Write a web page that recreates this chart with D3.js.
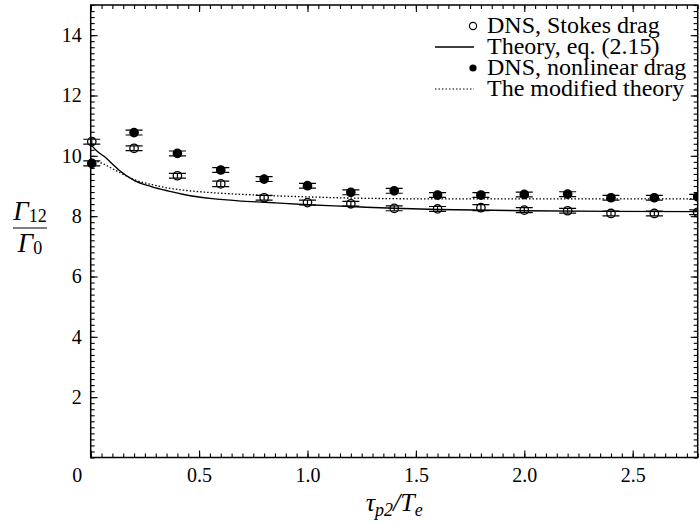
<!DOCTYPE html>
<html>
<head>
<meta charset="utf-8">
<script src="https://cdn.jsdelivr.net/npm/d3@7"></script>
<style>
  html, body { margin: 0; padding: 0; background: #fff; }
  svg { display: block; }
</style>
</head>
<body>
<svg id="chart" width="699" height="524"></svg>
<script>
// ---- data ----
const tauX = [0.005, 0.2, 0.4, 0.6, 0.8, 1.0, 1.2, 1.4, 1.6, 1.8, 2.0, 2.2, 2.4, 2.6, 2.8];
const stokesDrag = [10.47, 10.25, 9.34, 9.07, 8.61, 8.45, 8.41, 8.26, 8.24, 8.28, 8.20, 8.18, 8.09, 8.09, 8.13];
const stokesErr = [0.08, 0.08, 0.08, 0.09, 0.08, 0.08, 0.08, 0.08, 0.08, 0.1, 0.08, 0.08, 0.08, 0.08, 0.08];
const nonlinearDrag = [9.75, 10.77, 10.08, 9.53, 9.23, 9.01, 8.79, 8.84, 8.70, 8.70, 8.72, 8.73, 8.61, 8.61, 8.64];
const nonlinearErr = [0.08, 0.08, 0.08, 0.08, 0.08, 0.08, 0.08, 0.08, 0.08, 0.08, 0.08, 0.08, 0.08, 0.08, 0.08];

const theoryX = [0, 0.03, 0.066, 0.1, 0.13, 0.2, 0.28, 0.36, 0.43, 0.56, 0.7, 0.8, 1.0, 1.2, 1.4, 1.6, 2.0, 2.4, 2.8];
const theoryY = [10.38, 10.15, 9.96, 9.73, 9.53, 9.19, 8.98, 8.83, 8.72, 8.58, 8.50, 8.46, 8.38, 8.32, 8.26, 8.22, 8.18, 8.16, 8.15];
const modifiedX = [0, 0.05, 0.13, 0.2, 0.28, 0.36, 0.43, 0.56, 0.8, 1.0, 1.2, 1.4, 1.6, 2.0, 2.4, 2.8];
const modifiedY = [9.90, 9.76, 9.46, 9.21, 9.05, 8.93, 8.86, 8.78, 8.69, 8.64, 8.60, 8.58, 8.57, 8.57, 8.57, 8.57];

const xTicks = [0, 0.5, 1.0, 1.5, 2.0, 2.5];
const xTickLabels = ["0", "0.5", "1.0", "1.5", "2.0", "2.5"];
const yTicks = [2, 4, 6, 8, 10, 12, 14];
const legendLabels = ["DNS, Stokes drag", "Theory, eq. (2.15)", "DNS, nonlinear drag", "The modified theory"];

const SERIF = '"Liberation Serif", "Times New Roman", Tinos, "Noto Serif", serif';

// ---- layout ----
const margin = { left: 90.7, top: 5, right: 1.3, bottom: 66.5 };
const W = 699, H = 524;
const w = W - margin.left - margin.right;
const h = H - margin.top - margin.bottom;

const svg = d3.select("#chart");
const g = svg.append("g").attr("transform", `translate(${margin.left},${margin.top})`);

const x = d3.scaleLinear().domain([0, 2.8]).range([0, w]);
const y = d3.scaleLinear().domain([0, 15]).range([h, 0]);

svg.append("defs").append("clipPath").attr("id", "clip")
  .append("rect").attr("x", -30).attr("y", 0).attr("width", w + 30).attr("height", h);

// ---- axes ----
const minorX = d3.range(0, 2.8001, 0.05);
const minorY = d3.range(0, 15.001, 0.2);

function styleAxis(sel) {
  sel.select(".domain").remove();
  sel.selectAll("line").attr("stroke", "#000").attr("stroke-width", 1.1);
  sel.selectAll("text").style("font-family", SERIF).style("font-size", "20px").attr("fill", "#000");
}

// bottom
g.append("g").attr("transform", `translate(0,${h})`)
  .call(d3.axisBottom(x).tickValues(minorX).tickSize(-4).tickFormat(""))
  .call(styleAxis);
const xb = g.append("g").attr("transform", `translate(0,${h})`)
  .call(d3.axisBottom(x).tickValues(xTicks).tickSize(-7).tickPadding(10)
        .tickFormat((d, i) => xTickLabels[i]))
  .call(styleAxis);
xb.selectAll(".tick").filter(d => d === 0).select("text").attr("dx", -14);
// top
g.append("g")
  .call(d3.axisTop(x).tickValues(minorX).tickSize(-4).tickFormat(""))
  .call(styleAxis);
g.append("g")
  .call(d3.axisTop(x).tickValues(xTicks).tickSize(-7).tickFormat(""))
  .call(styleAxis);
// left
g.append("g")
  .call(d3.axisLeft(y).tickValues(minorY).tickSize(-4).tickFormat(""))
  .call(styleAxis);
g.append("g")
  .call(d3.axisLeft(y).tickValues(yTicks).tickSize(-7).tickPadding(9).tickFormat(d3.format("d")))
  .call(styleAxis);
// right
g.append("g").attr("transform", `translate(${w},0)`)
  .call(d3.axisRight(y).tickValues(minorY).tickSize(-4).tickFormat(""))
  .call(styleAxis);
g.append("g").attr("transform", `translate(${w},0)`)
  .call(d3.axisRight(y).tickValues(yTicks).tickSize(-7).tickFormat(""))
  .call(styleAxis);

// frame
g.append("rect").attr("x", 0).attr("y", 0).attr("width", w).attr("height", h)
  .attr("fill", "none").attr("stroke", "#000").attr("stroke-width", 1.5);

// ---- curves ----
const plot = g.append("g").attr("clip-path", "url(#clip)");
const line = d3.line().x(d => x(d[0])).y(d => y(d[1])).curve(d3.curveMonotoneX);

plot.append("path").datum(theoryX.map((v, i) => [v, theoryY[i]]))
  .attr("d", line).attr("fill", "none").attr("stroke", "#000").attr("stroke-width", 1.4);
plot.append("path").datum(modifiedX.map((v, i) => [v, modifiedY[i]]))
  .attr("d", line).attr("fill", "none").attr("stroke", "#000").attr("stroke-width", 1.3)
  .attr("stroke-dasharray", "1.5,2");

// ---- points with error bars ----
function drawSeries(vals, errs, filled) {
  const data = tauX.map((v, i) => ({ x: v, y: vals[i], e: errs[i] }));
  const grp = plot.append("g");
  const cap = 8.5;
  const pts = grp.selectAll("g").data(data).join("g");
  pts.append("line")
    .attr("x1", d => x(d.x)).attr("x2", d => x(d.x))
    .attr("y1", d => y(d.y - d.e)).attr("y2", d => y(d.y + d.e))
    .attr("stroke", "#000").attr("stroke-width", 1.2);
  pts.append("line")
    .attr("x1", d => x(d.x) - cap).attr("x2", d => x(d.x) + cap)
    .attr("y1", d => y(d.y + d.e)).attr("y2", d => y(d.y + d.e))
    .attr("stroke", "#000").attr("stroke-width", 1.2);
  pts.append("line")
    .attr("x1", d => x(d.x) - cap).attr("x2", d => x(d.x) + cap)
    .attr("y1", d => y(d.y - d.e)).attr("y2", d => y(d.y - d.e))
    .attr("stroke", "#000").attr("stroke-width", 1.2);
  pts.append("circle")
    .attr("cx", d => x(d.x)).attr("cy", d => y(d.y)).attr("r", 4.2)
    .attr("fill", filled ? "#000" : "none")
    .attr("stroke", "#000").attr("stroke-width", 1.3);
}
drawSeries(stokesDrag, stokesErr, false);
drawSeries(nonlinearDrag, nonlinearErr, true);

// ---- legend ----
const lg = svg.append("g");
const legX = 473, textX = 487, c0 = 26, step = 21;
legendLabels.forEach((lab, i) => {
  lg.append("text").attr("x", textX).attr("y", c0 + i * step + 7)
    .style("font-family", SERIF).style("font-size", "24px").attr("fill", "#000").text(lab);
});
lg.append("circle").attr("cx", legX).attr("cy", c0).attr("r", 3.6)
  .attr("fill", "none").attr("stroke", "#000").attr("stroke-width", 1.2);
lg.append("line").attr("x1", 435).attr("x2", 474).attr("y1", c0 + step).attr("y2", c0 + step)
  .attr("stroke", "#000").attr("stroke-width", 1.3);
lg.append("circle").attr("cx", legX).attr("cy", c0 + 2 * step).attr("r", 3.6)
  .attr("fill", "#000");
lg.append("line").attr("x1", 435).attr("x2", 474).attr("y1", c0 + 3 * step).attr("y2", c0 + 3 * step)
  .attr("stroke", "#000").attr("stroke-width", 1.2).attr("stroke-dasharray", "1.5,2");

// ---- axis titles ----
const xt = svg.append("text").attr("x", margin.left + w / 2).attr("y", 511)
  .attr("text-anchor", "middle").style("font-family", SERIF).style("font-size", "26px")
  .style("font-style", "italic").attr("fill", "#000");
xt.append("tspan").text("τ");
xt.append("tspan").style("font-size", "18px").attr("dy", 5).text("p2");
xt.append("tspan").attr("dy", -5).text("/T");
xt.append("tspan").style("font-size", "18px").attr("dy", 5).text("e");

function fracPart(yPos, sub) {
  const t = svg.append("text").attr("x", 30).attr("y", yPos).attr("text-anchor", "middle")
    .style("font-family", SERIF).style("font-size", "27px").style("font-style", "italic").attr("fill", "#000");
  t.append("tspan").text("Γ");
  t.append("tspan").style("font-size", "18px").style("font-style", "normal").attr("dy", 2).text(sub);
}
fracPart(220, "12");
svg.append("line").attr("x1", 13).attr("x2", 47).attr("y1", 228).attr("y2", 228)
  .attr("stroke", "#000").attr("stroke-width", 1.2);
fracPart(252, "0");
</script>
</body>
</html>
